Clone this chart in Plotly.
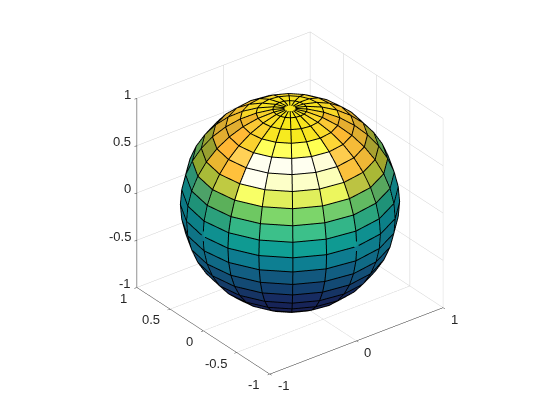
import math
import plotly.graph_objects as go

lat_deg = [-90,-81,-72,-63,-54,-45,-36,-27,-18,-9,0,9,18,27,36,45,54,63,72,81,90]
lon_deg = [-180,-162,-144,-126,-108,-90,-72,-54,-36,-18,0,18,36,54,72,90,108,126,144,162,180]

# facet colours, one row per latitude band (north to south),
# columns = the ten longitude cells facing the viewer, left to right
front_columns = [18, 19, 0, 1, 2, 3, 4, 5, 6, 7]
row_81_90  = ["#f8e420","#f8e420","#f8e61e","#f8e81c","#f8ea1c","#f8ea1c","#f8e81c","#f8e61e","#f8e420","#f8e420"]
row_72_81  = ["#f5d02a","#fbd82a","#f9de26","#f8e41e","#f7e81a","#f7e81a","#f8e41e","#f9de26","#fbd82a","#f5d02a"]
row_63_72  = ["#f0b72c","#fbc935","#fbd42e","#f9e522","#f7ea1f","#f7ea1f","#f9e522","#fcdc2a","#fbc935","#f0b72c"]
row_54_63  = ["#e2ae30","#ffb935","#fad22e","#ffff5a","#ffff5e","#ffff5e","#ffff52","#fcd636","#fcb932","#e6ae30"]
row_45_54  = ["#e2ad30","#ffb734","#ffd156","#fffff0","#fffff0","#fffff0","#fffdd8","#fdcc4e","#f5bb38","#e0ae2f"]
row_36_45  = ["#98a030","#eab630","#ffc13c","#fffff0","#fdffc8","#fdffc8","#fcffb8","#fbc13c","#eeb736","#a8a130"]
row_27_36  = ["#8ea62e","#a9bb38","#bfca42","#f8ff66","#e0ef5c","#e0ef5c","#ecf65e","#bcc342","#a9b836","#a0a52c"]
row_18_27  = ["#2d9274","#4da268","#5bb05a","#6ec862","#7ed66a","#7cd56a","#72cc6c","#62ba62","#58a75e","#3a9670"]
row_9_18   = ["#0f8282","#1f9278","#2ba07c","#34b686","#3cc08a","#3cc08a","#33b588","#2ba57e","#1f9278","#0f8084"]
row_0_9    = ["#0c7884","#0c8088","#0f9090","#0f9a92","#10a095","#10a095","#0f9a92","#0f9090","#0c8088","#0c7884"]
row_s9_0   = ["#0f6e82","#0f7486","#0e7c8c","#0e7c90","#0d7f92","#0d7f92","#0e7c90","#0e7c8c","#0f7486","#0f6e82"]
row_s18_9  = ["#10647e","#0f6a82","#106a86","#125e82","#12587e","#12587e","#125e82","#106a86","#0f6a82","#10647e"]
row_s27_18 = ["#115478","#125478","#134f76","#134a74","#133f6e","#133f6e","#134a74","#134f76","#125478","#115478"]
row_s36_27 = ["#134a72","#14446c","#153c68","#163464","#172c62","#172c62","#163464","#153c68","#14446c","#134a72"]
row_s45_36 = ["#143868","#153064","#16295c","#172558","#172458","#172458","#172558","#16295c","#153064","#143868"]
row_s54_45 = ["#153060","#172a5c","#182658","#1a2456","#1a2254","#1a2254","#1a2456","#182658","#172a5c","#153060"]
row_s63_54 = ["#182456","#1a2454","#1b2252","#1b2252","#1b2252","#1b2252","#1b2252","#1b2252","#1a2454","#182456"]
row_s72_63 = ["#1b2252"]*10
row_s81_72 = ["#1b2252"]*10
row_s90_81 = ["#1b2252"]*10
rows_south_to_north = [row_s90_81,row_s81_72,row_s72_63,row_s63_54,row_s54_45,row_s45_36,row_s36_27,row_s27_18,
    row_s18_9,row_s9_0,row_0_9,row_9_18,row_18_27,row_27_36,row_36_45,row_45_54,row_54_63,row_63_72,row_72_81,row_81_90]
# colour of the cells at the limb and behind it, south to north
limb_colors = ["#1b2252","#1b2252","#1b2252","#182456","#153060","#143868","#134a72","#115478","#10647e","#0f6e82",
               "#0c7884","#0f8282","#2d9274","#5fa050","#98a030","#d8aa30","#f0bc2e","#f7d828","#f8e220","#f8e61e"]

x_ticks = [-1,0,1]
yz_ticks = [-1,-0.5,0,0.5,1]
yz_text = ["-1","-0.5","0","0.5","1"]
x_text = ["-1","0","1"]

nlat, nlon = len(lat_deg), len(lon_deg)
def pt(la, lo):
    a, o = math.radians(la), math.radians(lo)
    return math.cos(a)*math.cos(o), math.cos(a)*math.sin(o), math.sin(a)

X, Y, Z = [], [], []
for la in lat_deg:
    for lo in lon_deg:
        p = pt(la, lo)
        X.append(p[0]); Y.append(p[1]); Z.append(p[2])
I, J, K, FC = [], [], [], []
for r in range(nlat-1):
    for c in range(nlon-1):
        a = r*nlon+c; b = a+1; d = a+nlon; e = d+1
        I += [a, a]; J += [e, d]; K += [b, e]
        col = rows_south_to_north[r][front_columns.index(c)] if c in front_columns else limb_colors[r]
        FC += [col, col]

mesh = go.Mesh3d(x=X, y=Y, z=Z, i=I, j=J, k=K, facecolor=FC, flatshading=True,
    lighting=dict(ambient=1, diffuse=0, specular=0, roughness=1, fresnel=0),
    hoverinfo="skip", showscale=False)

ex, ey, ez = [], [], []
R = 1.004
for la in lat_deg[1:-1]:
    for lo in lon_deg:
        p = pt(la, lo); ex.append(p[0]*R); ey.append(p[1]*R); ez.append(p[2]*R)
    ex.append(None); ey.append(None); ez.append(None)
for lo in lon_deg[:-1]:
    for la in lat_deg:
        p = pt(la, lo); ex.append(p[0]*R); ey.append(p[1]*R); ez.append(p[2]*R)
    ex.append(None); ey.append(None); ez.append(None)
edges = go.Scatter3d(x=ex, y=ey, z=ez, mode="lines", line=dict(color="#000000", width=2),
    hoverinfo="skip", showlegend=False)

def ax(vals):
    return dict(range=[-1,1], tickmode="array", tickvals=vals, showticklabels=False, showgrid=True,
        gridcolor="#cfcfcf", gridwidth=1, showline=True, linecolor="#262626", linewidth=1,
        zeroline=False, showbackground=False, ticks="outside", ticklen=3, tickcolor="#262626",
        title=dict(text=""), showspikes=False, autorange=False)

tf = dict(family="Liberation Sans", size=13, color="#262626")
ann = []
for v, t in zip(x_ticks, x_text):
    ann.append(dict(x=v, y=-1, z=-1, text=t, showarrow=False, font=tf, xanchor="left", yanchor="middle", xshift=6, yshift=-12))
for v, t in zip(yz_ticks, yz_text):
    ann.append(dict(x=-1, y=v, z=-1, text=t, showarrow=False, font=tf, xanchor="right", yanchor="middle", xshift=-8, yshift=-11))
    ann.append(dict(x=-1, y=1, z=v, text=t, showarrow=False, font=tf, xanchor="right", yanchor="middle", xshift=-4, yshift=4))

fig = go.Figure([mesh, edges])
el, az = math.radians(30), math.radians(-37.5)
d = 2.0
fig.update_layout(width=560, height=420, margin=dict(l=0,r=0,t=0,b=0), paper_bgcolor="white", showlegend=False,
    scene=dict(domain=dict(x=[0.007,1],y=[0.072,1]), aspectmode="manual", aspectratio=dict(x=1.12,y=1.12,z=1.12),
        xaxis=ax(x_ticks), yaxis=ax(yz_ticks), zaxis=ax(yz_ticks), annotations=ann,
        camera=dict(projection=dict(type="orthographic"), up=dict(x=0,y=0,z=1),
            center=dict(x=0,y=0,z=0),
            eye=dict(x=d*math.sin(az)*math.cos(el), y=-d*math.cos(az)*math.cos(el), z=d*math.sin(el)))))
fig.write_html("out.html")
